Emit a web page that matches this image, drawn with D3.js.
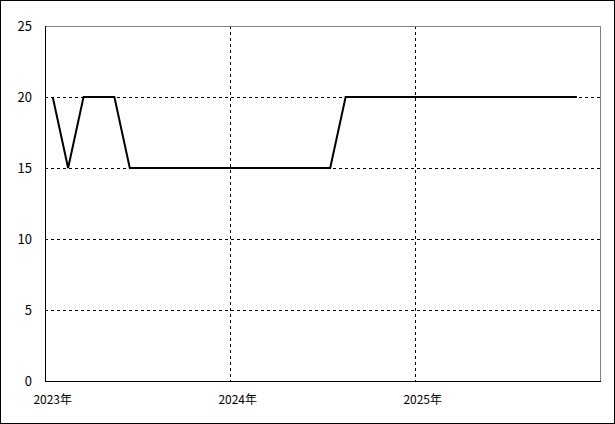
<!DOCTYPE html>
<html lang="ja">
<head>
<meta charset="utf-8" />
<title></title>
<script src="https://cdn.jsdelivr.net/npm/d3@7"></script>
<style type="text/css">
    body { margin: 0; background: #fff; }
    svg { display: block; }
    text { font-family: "Noto Sans CJK JP", "DejaVu Sans", sans-serif; fill: #000; }
</style>
</head>
<body>
<script type="text/javascript">
    // monthly values, Jan 2023 .. Nov 2025
    var values = [20, 15, 20, 20, 20, 15, 15, 15, 15, 15, 15, 15,
                  15, 15, 15, 15, 15, 15, 15, 20, 20, 20, 20, 20,
                  20, 20, 20, 20, 20, 20, 20, 20, 20, 20, 20];
    var yTicks = [0, 5, 10, 15, 20, 25];
    var yearLabels = ["2023年", "2024年", "2025年"];
    var yearStarts = [0, 12, 24];   // month index of each year start
    var monthCount = 36;

    var W = 615, H = 424;
    var plotLeft = 45, plotRight = 600, plotTop = 26, plotBottom = 381;

    var svg = d3.select("body").append("svg")
        .attr("width", W).attr("height", H);

    // outer border
    svg.append("rect")
        .attr("x", 0.5).attr("y", 0.5)
        .attr("width", W - 1).attr("height", H - 1)
        .attr("fill", "none").attr("stroke", "#000");

    var x = d3.scaleLinear().domain([0, monthCount]).range([plotLeft, plotRight]);
    var y = d3.scaleLinear().domain([0, 25]).range([plotBottom, plotTop]);

    // horizontal grid
    svg.selectAll("line.hgrid")
        .data(yTicks.filter(function (d) { return d > 0 && d < 25; }))
        .enter().append("line")
        .attr("class", "hgrid")
        .attr("x1", plotLeft).attr("x2", plotRight)
        .attr("y1", function (d) { return Math.round(y(d)) + 0.5; })
        .attr("y2", function (d) { return Math.round(y(d)) + 0.5; })
        .attr("stroke", "#000")
        .attr("stroke-dasharray", "3,3");

    // vertical grid at year boundaries
    svg.selectAll("line.vgrid")
        .data(yearStarts.slice(1))
        .enter().append("line")
        .attr("class", "vgrid")
        .attr("x1", function (d) { return Math.round(x(d)) + 0.5; })
        .attr("x2", function (d) { return Math.round(x(d)) + 0.5; })
        .attr("y1", plotTop).attr("y2", plotBottom)
        .attr("stroke", "#000")
        .attr("stroke-dasharray", "3,3");

    // frame: top/right grey, left/bottom black
    svg.append("line")
        .attr("x1", plotLeft).attr("x2", plotRight + 0.5)
        .attr("y1", plotTop + 0.5).attr("y2", plotTop + 0.5)
        .attr("stroke", "#808080");
    svg.append("line")
        .attr("x1", plotRight + 0.5).attr("x2", plotRight + 0.5)
        .attr("y1", plotTop).attr("y2", plotBottom)
        .attr("stroke", "#808080");
    svg.append("line")
        .attr("x1", plotLeft + 0.5).attr("x2", plotLeft + 0.5)
        .attr("y1", plotTop).attr("y2", plotBottom + 1)
        .attr("stroke", "#000");
    svg.append("line")
        .attr("x1", plotLeft).attr("x2", plotRight + 1)
        .attr("y1", plotBottom + 0.5).attr("y2", plotBottom + 0.5)
        .attr("stroke", "#000");

    // y tick labels
    svg.selectAll("text.ytick")
        .data(yTicks)
        .enter().append("text")
        .attr("class", "ytick")
        .attr("x", 32)
        .attr("y", function (d) { return y(d); })
        .attr("dy", "0.36em")
        .attr("text-anchor", "end")
        .style("font-size", "13px")
        .text(function (d) { return d; });

    // x labels, centred on January of each year
    svg.selectAll("text.xtick")
        .data(yearLabels)
        .enter().append("text")
        .attr("class", "xtick")
        .attr("x", function (d, i) { return x(yearStarts[i] + 0.5); })
        .attr("y", 404)
        .attr("text-anchor", "middle")
        .style("font-size", "12px")
        .text(function (d) { return d; });

    // data line
    var line = d3.line()
        .x(function (d, i) { return x(i + 0.5); })
        .y(function (d) { return y(d); });

    svg.append("path")
        .datum(values)
        .attr("d", line)
        .attr("fill", "none")
        .attr("stroke", "#000")
        .attr("stroke-width", 2);
</script>
</body>
</html>
